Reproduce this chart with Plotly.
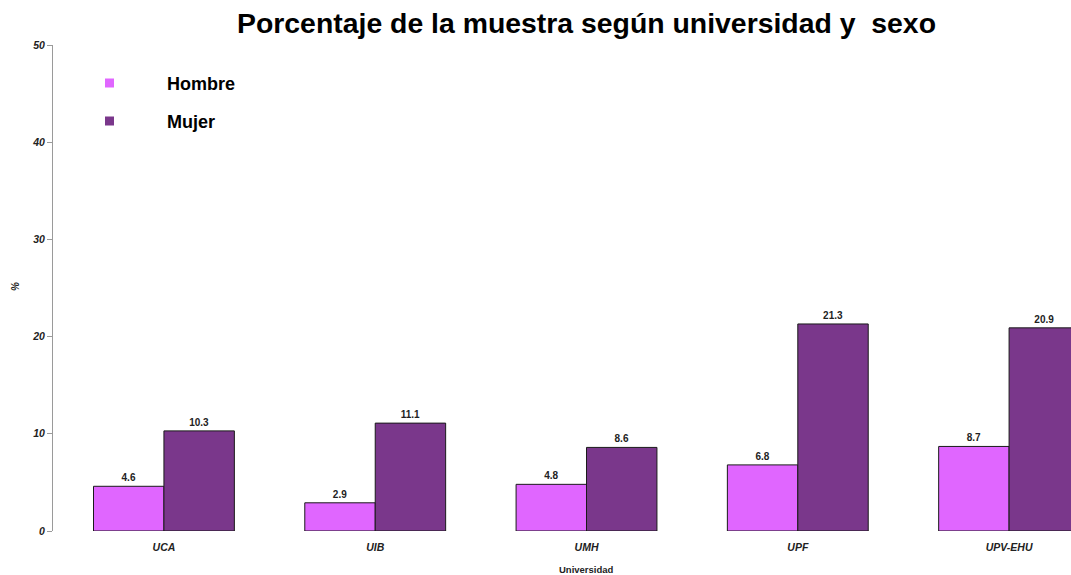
import plotly.graph_objects as go

universidades = ["UCA", "UIB", "UMH", "UPF", "UPV-EHU"]
hombre = [4.6, 2.9, 4.8, 6.8, 8.7]
mujer = [10.3, 11.1, 8.6, 21.3, 20.9]
series_names = ["Hombre", "Mujer"]
colors = ["#E066FF", "#7A378B"]

W, H = 1071, 575
L, R, T, B = 53, 0, 45, 44
pw, ph = W - L - R, H - T - B

def px_x(x):
    return (x - L) / pw

def px_y(y):
    return (H - B - y) / ph

fig = go.Figure()
for name, vals, col in zip(series_names, [hombre, mujer], colors):
    fig.add_trace(go.Bar(
        x=universidades, y=vals, name=name,
        marker=dict(color=col, line=dict(color="#1a1a1a", width=1)),
        text=[f"{v:.1f}" for v in vals], textposition="outside",
        textfont=dict(family="Liberation Sans", size=10, color="#222", weight="bold"),
        cliponaxis=False, showlegend=False,
    ))

fig.update_layout(
    width=W, height=H, autosize=False,
    margin=dict(l=L, r=R, t=T, b=B),
    plot_bgcolor="white", paper_bgcolor="white",
    barmode="group", bargap=1/3, bargroupgap=0,
    font=dict(family="Liberation Sans", color="#222"),
    xaxis=dict(range=[-0.525, 4.293], showline=False, ticks="", showgrid=False,
               tickfont=dict(size=10.5, weight="bold", style="italic", color="#222"),
               ticklabelstandoff=8),
    yaxis=dict(range=[0, 50], tickvals=[0, 10, 20, 30, 40, 50], showgrid=False, zeroline=False,
               showline=True, linecolor="#9a9a9a", linewidth=1,
               ticks="outside", ticklen=5, tickcolor="#9a9a9a",
               tickfont=dict(size=10.5, weight="bold", style="italic", color="#222")),
)

fig.add_annotation(text="Porcentaje de la muestra según universidad y  sexo",
                   xref="paper", yref="paper", x=px_x(586), y=px_y(22.5),
                   xanchor="center", yanchor="middle", showarrow=False,
                   font=dict(size=28.4, weight="bold", color="black"))
fig.add_annotation(text="Universidad", xref="paper", yref="paper",
                   x=px_x(586), y=px_y(569), xanchor="center", yanchor="middle",
                   showarrow=False, font=dict(size=9.5, weight="bold", color="#222"))
fig.add_annotation(text="%", xref="paper", yref="paper", x=px_x(15), y=px_y(287),
                   textangle=-90, xanchor="center", yanchor="middle", showarrow=False,
                   font=dict(size=10, weight="bold", style="italic", color="#222"))

for i, (name, col) in enumerate(zip(series_names, colors)):
    cy = 83 + 38 * i
    fig.add_shape(type="rect", xref="paper", yref="paper",
                  x0=px_x(105), x1=px_x(114), y0=px_y(cy + 4.5), y1=px_y(cy - 4.5),
                  fillcolor=col, line=dict(width=0))
    fig.add_annotation(text=name, xref="paper", yref="paper", x=px_x(165), y=px_y(cy + 1),
                       xanchor="left", yanchor="middle", showarrow=False,
                       font=dict(size=18, weight="bold", color="black"))

fig.write_html("out.html", config={"displayModeBar": False},
               post_script="document.body.style.margin='0px';")
